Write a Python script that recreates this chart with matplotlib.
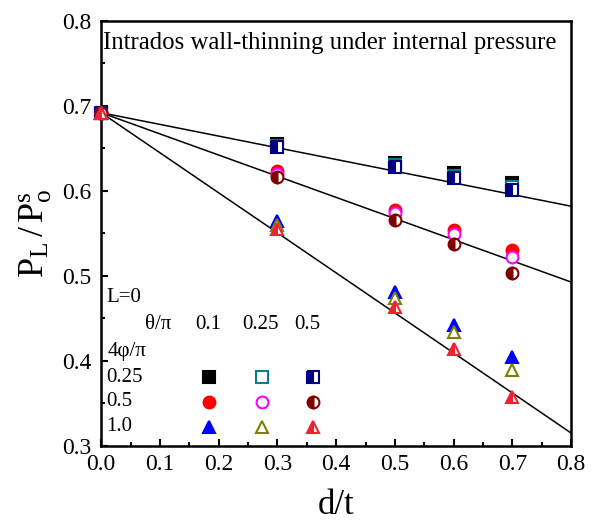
import matplotlib
matplotlib.use("Agg")
from matplotlib import pyplot as plt
from matplotlib.ticker import MultipleLocator

plt.rcParams['font.family'] = ['Liberation Serif', 'DejaVu Serif']
plt.rcParams['mathtext.fontset'] = 'custom'
plt.rcParams['mathtext.rm'] = 'Liberation Serif'
plt.rcParams['mathtext.it'] = 'Liberation Serif:italic'

# d/t positions
dt = [0.0, 0.3, 0.5, 0.6, 0.7]

# 4phi/pi = 0.25 (squares), theta/pi = 0.1, 0.25, 0.5
sq_01 = [0.692, 0.6555, 0.633, 0.6214, 0.6096]
sq_025 = [0.692, 0.653, 0.630, 0.618, 0.605]
sq_05 = [0.692, 0.6515, 0.628, 0.6155, 0.601]

# 4phi/pi = 0.5 (circles)
ci_01 = [0.692, 0.6235, 0.5776, 0.554, 0.531]
ci_025 = [0.692, 0.620, 0.574, 0.549, 0.5227]
ci_05 = [0.692, 0.616, 0.566, 0.537, 0.504]

# 4phi/pi = 1.0 (triangles)
tr_01 = [0.692, 0.565, 0.481, 0.442, 0.4047]
tr_025 = [0.692, 0.560, 0.474, 0.4345, 0.3894]
tr_05 = [0.692, 0.555, 0.4635, 0.414, 0.358]

# fitted lines: intercept and slope
fit_intercept = [0.692, 0.692, 0.692]
fit_slope = [-0.1375, -0.249, -0.471]
fit_x = [0.0, 0.8]

theta_labels = ["0.1", "0.25", "0.5"]
phi_labels = ["0.25", "0.5", "1.0"]

styles = [
    [dict(marker='s', color='black'),
     dict(marker='s', color='#008080', markerfacecolor='white'),
     dict(marker='s', color='#000080', fillstyle='left', markerfacecoloralt='white')],
    [dict(marker='o', color='red'),
     dict(marker='o', color='#FF00FF', markerfacecolor='white'),
     dict(marker='o', color='#800000', fillstyle='left', markerfacecoloralt='white')],
    [dict(marker='^', color='blue'),
     dict(marker='^', color='#808000', markerfacecolor='white'),
     dict(marker='^', color='#EE2233', fillstyle='left', markerfacecoloralt='white')],
]
series = [[sq_01, sq_025, sq_05], [ci_01, ci_025, ci_05], [tr_01, tr_025, tr_05]]

fig = plt.figure(figsize=(5.95, 5.22), dpi=100)
ax = fig.add_axes([0.170, 0.1456, 0.790, 0.8144])

for a, b in zip(fit_intercept, fit_slope):
    ax.plot(fit_x, [a + b * x for x in fit_x], color='black', lw=1.1, zorder=2)

for row_series, row_styles in zip(series, styles):
    for ys, st in zip(row_series, row_styles):
        ax.plot(dt, ys, linestyle='none', markersize=8.5, markeredgewidth=1.5,
                zorder=3, clip_on=False, **st)

# legend-like table drawn as text and markers
fs = 15
ax.text(0.011, 0.35, "L=0", transform=ax.transAxes, fontsize=fs, va='center', ha='left')
ax.text(0.121, 0.285, "θ/π", transform=ax.transAxes, fontsize=fs, va='center', ha='center')
ax.text(0.013, 0.222, "4φ/π", transform=ax.transAxes, fontsize=fs, va='center', ha='left')
col_x = [0.230, 0.343, 0.451]
row_y = [0.162, 0.104, 0.045]
for lab, cx in zip(theta_labels, [0.228, 0.340, 0.438]):
    ax.text(cx, 0.285, lab, transform=ax.transAxes, fontsize=fs, va='center', ha='center')
for i, lab in enumerate(phi_labels):
    ax.text(0.011, row_y[i], lab, transform=ax.transAxes, fontsize=fs, va='center', ha='left')
    for j in range(3):
        ax.plot(col_x[j], row_y[i], transform=ax.transAxes, linestyle='none',
                markersize=8.5, markeredgewidth=1.5, **styles[i][j])

ax.text(0.004, 0.948, "Intrados wall-thinning under internal pressure",
        transform=ax.transAxes, fontsize=17.8, va='center', ha='left')

ax.set_xlim(0, 0.8)
ax.set_ylim(0.3, 0.8)
ax.xaxis.set_major_locator(MultipleLocator(0.1))
ax.xaxis.set_minor_locator(MultipleLocator(0.05))
ax.yaxis.set_major_locator(MultipleLocator(0.1))
ax.yaxis.set_minor_locator(MultipleLocator(0.05))
ax.tick_params(which='both', direction='in', width=1.5, labelsize=17, top=False, right=False)
ax.tick_params(axis='x', pad=6)
ax.tick_params(axis='y', pad=7)
ax.tick_params(which='major', length=5)
ax.tick_params(which='minor', length=3)
for sp in ax.spines.values():
    sp.set_linewidth(1.8)

ax.set_xlabel("d/t", fontsize=25, labelpad=10)
ax.set_ylabel(r"$\mathrm{P_L\,/\,P_o^s}$", fontsize=26, labelpad=6)

fig.savefig("out.png", dpi=100)
